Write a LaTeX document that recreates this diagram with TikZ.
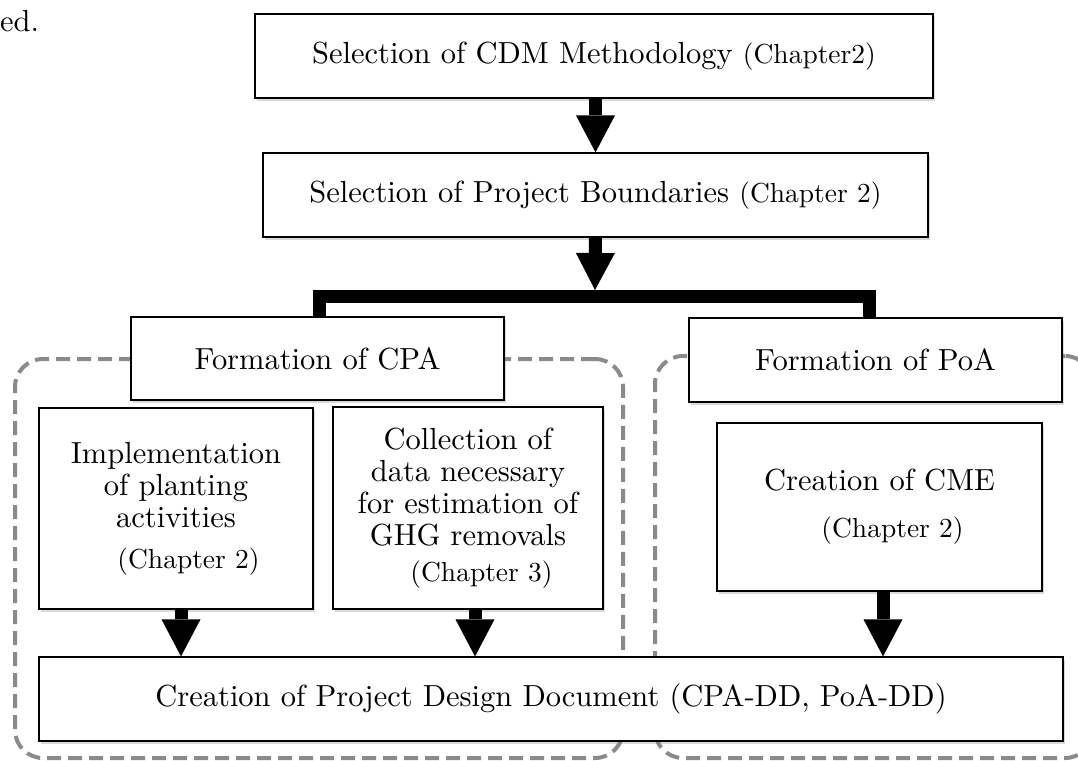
\documentclass[tikz,border=0pt]{standalone}
\usepackage{fontspec}
\setmainfont{lmroman10-regular.otf}
\usetikzlibrary{arrows.meta,shadows}
\newcommand\mainfs{\fontsize{30.5}{32}\selectfont}
\newcommand\chapfs{\fontsize{27.5}{32}\selectfont}
\definecolor{groupgray}{HTML}{8A8A8A}
\tikzset{
  stepbox/.style={draw=black, line width=1.2pt, fill=white, inner sep=0pt,
    align=center, font=\mainfs,
    drop shadow={shadow xshift=2pt, shadow yshift=-2.5pt, opacity=0.3}},
  groupbox/.style={draw=groupgray, line width=4pt, dash pattern=on 14pt off 7pt,
    rounded corners=28pt, inner sep=0pt},
  bigarrow/.style={line width=13pt, line cap=butt,
    -{Triangle[width=39pt,length=37pt,line width=0pt]}},
  tbar/.style={line width=13pt, line join=miter, line cap=butt}
}
\begin{document}
\begin{tikzpicture}[x=1pt,y=-1pt]
\useasboundingbox (0,0) rectangle (1078,760);
\clip (0,0) rectangle (1078,760);

% text fragment at the top left
\node[anchor=base west, inner sep=0pt, font=\mainfs] (frag) at (0,31.5) {ed.};

% dashed groups (drawn first, boxes cover parts of them)
\node[groupbox, minimum width=608pt, minimum height=399pt] (grpcpa) at (319,558.5) {};
\node[groupbox, minimum width=438pt, minimum height=402pt] (grppoa) at (874,557) {};

% boxes
\node[stepbox, minimum width=678pt, minimum height=84pt] (b1) at (594,56)
  {Selection of CDM Methodology {\chapfs(Chapter2)}};
\node[stepbox, minimum width=665pt, minimum height=84pt] (b2) at (595.5,195)
  {Selection of Project Boundaries {\chapfs(Chapter 2)}};
\node[stepbox, minimum width=373pt, minimum height=83pt] (cpa) at (317.5,358.5)
  {Formation of CPA};
\node[stepbox, minimum width=373pt, minimum height=84pt] (poa) at (875.5,360)
  {Formation of PoA};
\node[stepbox, minimum width=274pt, minimum height=201pt] (impl) at (176,508.5)
  {Implementation\\of planting\\activities\\[9pt]{\chapfs\hspace*{25pt}(Chapter 2)}};
\node[stepbox, minimum width=270pt, minimum height=202pt] (coll) at (468,508)
  {Collection of\\data necessary\\for estimation of\\GHG removals\\[4pt]{\chapfs\hspace*{27pt}(Chapter 3)}};
\node[stepbox, minimum width=325pt, minimum height=168pt] (cme) at (879.5,507)
  {Creation of CME\\[15pt]{\chapfs\hspace*{26pt}(Chapter 2)}};
\node[stepbox, minimum width=1024pt, minimum height=84pt] (pdd) at (551,699)
  {Creation of Project Design Document (CPA-DD, PoA-DD)};

% connectors
\coordinate (junc) at (595,296.5);
\draw[bigarrow] ([xshift=1.5pt]b1.south) -- ([xshift=1.5pt]b1.south |- b2.north);
\draw[bigarrow] (b2.south) -- ([yshift=6.5pt]junc);
\draw[tbar] ([xshift=1.5pt]cpa.north) |- (junc) -| ([xshift=-6pt]poa.north);
\draw[bigarrow] ([xshift=5pt]impl.south) -- ([xshift=5pt]impl.south |- pdd.north);
\draw[bigarrow] ([xshift=7pt]coll.south) -- ([xshift=7pt]coll.south |- pdd.north);
\draw[bigarrow] ([xshift=3.5pt]cme.south) -- ([xshift=3.5pt]cme.south |- pdd.north);
\end{tikzpicture}
\end{document}
